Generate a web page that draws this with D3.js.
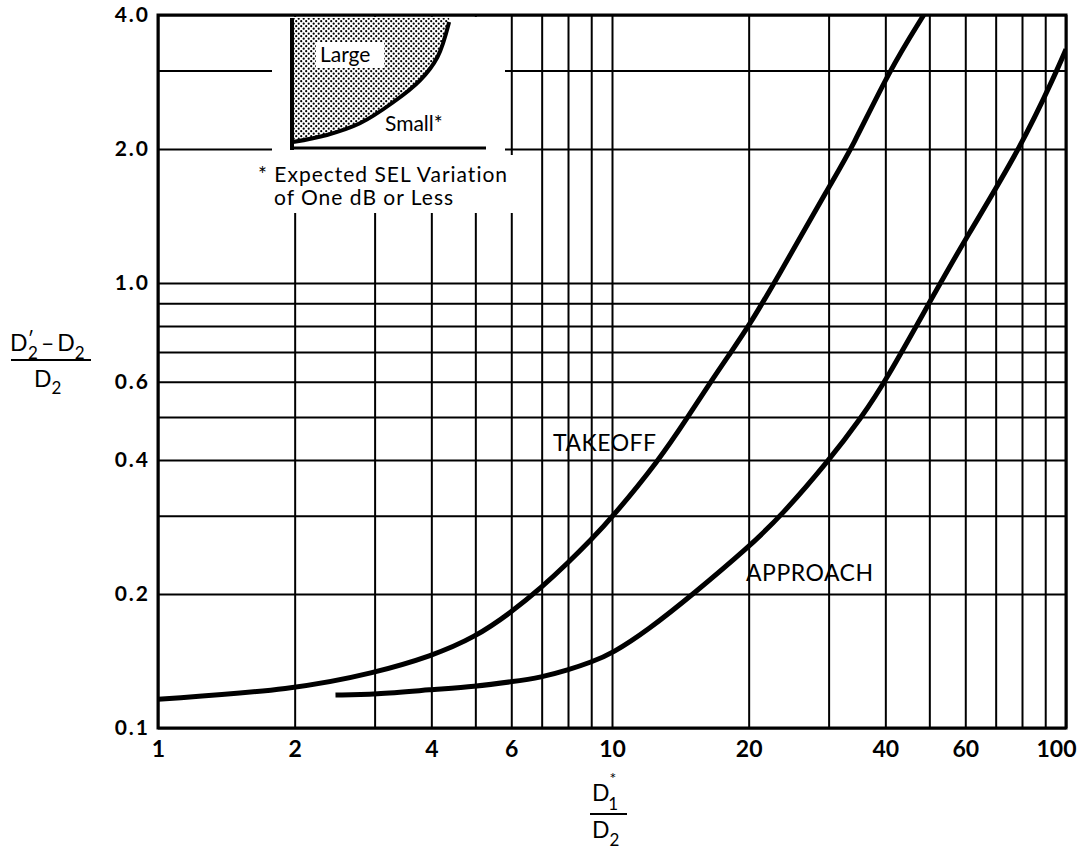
<!DOCTYPE html>
<html>
<head>
<meta charset="utf-8">
<script src="https://cdn.jsdelivr.net/npm/d3@7"></script>
<style>
  body { margin: 0; background: #fff; }
  text { font-family: Lato, "Open Sans", sans-serif; fill: #000; }
</style>
</head>
<body>
<script>
// grid lines and tick labels
var xGrid = [1, 2, 3, 4, 5, 6, 7, 8, 9, 10, 20, 30, 40, 50, 60, 70, 80, 90, 100];
var yGrid = [0.1, 0.2, 0.3, 0.4, 0.5, 0.6, 0.7, 0.8, 0.9, 1.0, 2.0, 3.0, 4.0];
var xLabels = [1, 2, 4, 6, 10, 20, 40, 60, 100];
var yLabels = [0.1, 0.2, 0.4, 0.6, 1.0, 2.0, 4.0];

// curves
var takeoffX = [1, 2, 3, 4, 5, 6, 7, 8, 9, 10, 12.7, 14.7, 16.5, 18.3, 20, 22.8, 30.4, 33.7, 40.8, 48.6];
var takeoffY = [0.116, 0.122, 0.133, 0.145, 0.160, 0.182, 0.207, 0.235, 0.265, 0.297, 0.4, 0.5, 0.6, 0.7, 0.8, 1.0, 1.68, 2.0, 3.0, 4.0];
var approachX = [2.46, 3, 4, 5, 6, 7, 8, 9, 10, 12.0, 15.1, 20, 23.6, 30.1, 35.5, 40, 51.4, 59.9, 79.2, 95.5, 100];
var approachY = [0.1186, 0.119, 0.122, 0.124, 0.127, 0.130, 0.135, 0.1406, 0.147, 0.166, 0.2, 0.255, 0.3, 0.4, 0.5, 0.6, 0.95, 1.25, 2.0, 3.0, 3.35];

// little sketch in the corner (0..1 units)
var insetX = [0.005, 0.18, 0.35, 0.52, 0.66, 0.75, 0.81];
var insetY = [0.046, 0.10, 0.19, 0.35, 0.52, 0.70, 0.97];

var W = 1082, H = 854;
var pLeft = 158, pRight = 1066, pTop = 15, pBottom = 728;

var svg = d3.select('body').append('svg')
    .attr('width', W)
    .attr('height', H);

var x = d3.scaleLog().domain([1, 100]).range([pLeft, pRight]);
var y = d3.scaleLog().domain([0.1, 4]).range([pBottom, pTop]);

// stipple pattern
var defs = svg.append('defs');
var pat = defs.append('pattern')
    .attr('id', 'dots')
    .attr('width', 5).attr('height', 5)
    .attr('patternUnits', 'userSpaceOnUse');
pat.append('circle').attr('cx', 1.2).attr('cy', 1.2).attr('r', 1.1).attr('fill', '#000');
pat.append('circle').attr('cx', 3.7).attr('cy', 3.7).attr('r', 1.1).attr('fill', '#000');
defs.append('clipPath').attr('id', 'plot')
  .append('rect').attr('x', pLeft).attr('y', pTop).attr('width', pRight - pLeft).attr('height', pBottom - pTop);

// grid
svg.append('g')
    .attr('transform', 'translate(0,' + pBottom + ')')
    .call(d3.axisBottom(x).tickValues(xGrid).tickSize(-(pBottom - pTop)).tickFormat(''))
    .call(function(g){ g.select('.domain').remove(); })
    .selectAll('line').attr('stroke', '#000').attr('stroke-width', 2);

svg.append('g')
    .attr('transform', 'translate(' + pLeft + ',0)')
    .call(d3.axisLeft(y).tickValues(yGrid).tickSize(-(pRight - pLeft)).tickFormat(''))
    .call(function(g){ g.select('.domain').remove(); })
    .selectAll('line').attr('stroke', '#000').attr('stroke-width', 2);

// white space for the inset
svg.append('rect').attr('x', 272).attr('y', pTop + 2).attr('width', 233).attr('height', 140).attr('fill', '#fff');
svg.append('rect').attr('x', 256).attr('y', 155).attr('width', 282).attr('height', 58).attr('fill', '#fff');

// frame
svg.append('rect')
    .attr('x', pLeft).attr('y', pTop)
    .attr('width', pRight - pLeft).attr('height', pBottom - pTop)
    .attr('fill', 'none').attr('stroke', '#000').attr('stroke-width', 3);

// curves
var line = d3.line()
    .x(function(d){ return x(d[0]); })
    .y(function(d){ return y(d[1]); })
    .curve(d3.curveBasis);

svg.append('path')
    .datum(d3.zip(takeoffX, takeoffY))
    .attr('clip-path', 'url(#plot)')
    .attr('d', line)
    .attr('fill', 'none').attr('stroke', '#000').attr('stroke-width', 5);

svg.append('path')
    .datum(d3.zip(approachX, approachY))
    .attr('clip-path', 'url(#plot)')
    .attr('d', line)
    .attr('fill', 'none').attr('stroke', '#000').attr('stroke-width', 5);

svg.append('text').attr('x', 553).attr('y', 451)
    .style('font-size', '23px').style('letter-spacing', '0.5px').text('TAKEOFF');
svg.append('text').attr('x', 746).attr('y', 581)
    .style('font-size', '23px').style('letter-spacing', '0.5px').text('APPROACH');

// tick labels
svg.append('g')
    .attr('transform', 'translate(0,' + pBottom + ')')
    .call(d3.axisBottom(x).tickValues(xLabels).tickSize(0).tickPadding(13).tickFormat(d3.format('d')))
    .call(function(g){ g.select('.domain').remove(); })
    .selectAll('text')
      .attr('font-family', null)
      .attr('dx', function(d){ return d === 100 ? -10 : 0; })
      .style('font-size', '23px').style('font-weight', 'bold');

svg.append('g')
    .attr('transform', 'translate(' + (pLeft - 8) + ',0)')
    .call(d3.axisLeft(y).tickValues(yLabels).tickSize(0).tickPadding(0).tickFormat(d3.format('.1f')))
    .call(function(g){ g.select('.domain').remove(); })
    .selectAll('text')
      .attr('font-family', null)
      .style('font-size', '21px').style('font-weight', 'bold').style('letter-spacing', '2px');

// inset sketch
var ix = d3.scaleLinear().domain([0, 1]).range([292, 486]);
var iy = d3.scaleLinear().domain([0, 1]).range([148, 18]);
var insetPts = d3.zip(insetX, insetY);
var insetLine = d3.line()
    .x(function(d){ return ix(d[0]); })
    .y(function(d){ return iy(d[1]); })
    .curve(d3.curveCatmullRom);

var area = [[0, 1], [0, insetY[0]]].concat(insetPts).concat([[insetX[insetX.length - 1], 1]]);
svg.append('path')
    .datum(area)
    .attr('d', d3.line().x(function(d){ return ix(d[0]); }).y(function(d){ return iy(d[1]); }).curve(d3.curveCatmullRom))
    .attr('fill', 'url(#dots)');
svg.append('path')
    .datum(insetPts)
    .attr('d', insetLine)
    .attr('fill', 'none').attr('stroke', '#000').attr('stroke-width', 4);
svg.append('line').attr('x1', ix(0)).attr('x2', ix(0)).attr('y1', 18).attr('y2', 150)
    .attr('stroke', '#000').attr('stroke-width', 4);
svg.append('line').attr('x1', ix(0) - 2).attr('x2', ix(1)).attr('y1', 148).attr('y2', 148)
    .attr('stroke', '#000').attr('stroke-width', 3);

svg.append('rect').attr('x', 316).attr('y', 42).attr('width', 68).attr('height', 26).attr('fill', '#fff');
svg.append('text').attr('x', 320).attr('y', 62).style('font-size', '21px').text('Large');
svg.append('text').attr('x', 385).attr('y', 131).style('font-size', '21px').text('Small*');

svg.append('text').attr('x', 258).attr('y', 182).style('font-size', '21px').style('letter-spacing', '1px')
    .text('* Expected SEL Variation');
svg.append('text').attr('x', 274).attr('y', 205).style('font-size', '21px').style('letter-spacing', '1px')
    .text('of One dB or Less');

// y axis title
var num = svg.append('text').attr('x', 10).attr('y', 351).style('font-size', '23px');
num.append('tspan').text('D');
num.append('tspan').attr('dy', -5).style('font-size', '20px').text('\u2032');
num.append('tspan').attr('dx', -6).attr('dy', 13).style('font-size', '17px').text('2');
num.append('tspan').attr('dx', 3).attr('dy', -8).text('\u2013');
num.append('tspan').attr('dx', 3).text('D');
num.append('tspan').attr('dy', 8).style('font-size', '17px').text('2');
svg.append('line').attr('x1', 11).attr('x2', 91).attr('y1', 360).attr('y2', 360)
    .attr('stroke', '#000').attr('stroke-width', 2);
var den = svg.append('text').attr('x', 34).attr('y', 387).style('font-size', '23px');
den.append('tspan').text('D');
den.append('tspan').attr('dy', 7).style('font-size', '17px').text('2');

// x axis title
var xn = svg.append('text').attr('x', 592).attr('y', 801).style('font-size', '23px');
xn.append('tspan').text('D');
xn.append('tspan').attr('dy', -17).style('font-size', '16px').text('*');
xn.append('tspan').attr('dx', -8).attr('dy', 26).style('font-size', '17px').text('1');
svg.append('line').attr('x1', 590).attr('x2', 627).attr('y1', 814).attr('y2', 814)
    .attr('stroke', '#000').attr('stroke-width', 2);
var xd = svg.append('text').attr('x', 592).attr('y', 838).style('font-size', '23px');
xd.append('tspan').text('D');
xd.append('tspan').attr('dy', 8).style('font-size', '17px').text('2');
</script>
</body>
</html>
